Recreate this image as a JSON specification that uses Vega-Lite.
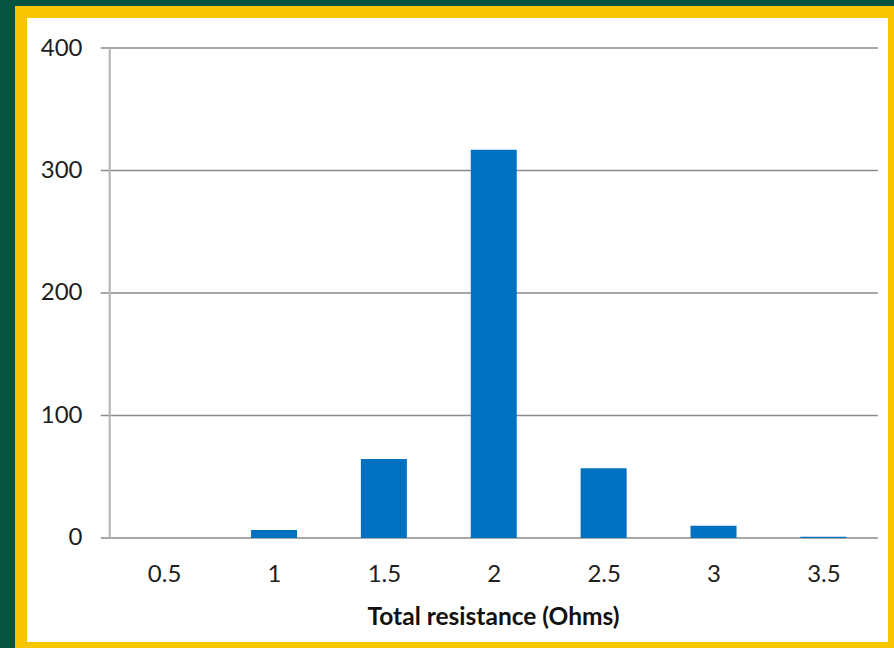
{
  "$schema": "https://vega.github.io/schema/vega-lite/v6.json",
  "width": 873,
  "height": 636,
  "autosize": {"type": "none"},
  "padding": {"left": 21, "top": 12, "right": 0, "bottom": 0},
  "background": "#06533f",
  "config": {
    "view": {"fill": "#ffffff", "stroke": "#f7c600", "strokeWidth": 12},
    "font": "Lato"
  },
  "datasets": {
    "counts": [
      {"resistance": 0.5, "count": 0},
      {"resistance": 1.0, "count": 6.5},
      {"resistance": 1.5, "count": 64.5},
      {"resistance": 2.0, "count": 317},
      {"resistance": 2.5, "count": 57},
      {"resistance": 3.0, "count": 10},
      {"resistance": 3.5, "count": 1}
    ],
    "gridlines": [
      {"level": 0}, {"level": 100}, {"level": 200}, {"level": 300}, {"level": 400}
    ]
  },
  "layer": [
    {
      "data": {"name": "gridlines"},
      "mark": {"type": "rule", "color": "#8a8a8a", "strokeWidth": 1.3},
      "encoding": {
        "y": {"field": "level", "type": "quantitative", "title": null},
        "x": {"datum": 0.2117, "type": "quantitative", "title": null},
        "x2": {"datum": 3.7477}
      }
    },
    {
      "data": {"values": [{}]},
      "mark": {"type": "rule", "color": "#b2b2b2", "strokeWidth": 2},
      "encoding": {
        "x": {"datum": 0.2523, "type": "quantitative", "title": null},
        "y": {"datum": 0, "type": "quantitative", "title": null},
        "y2": {"datum": 400}
      }
    },
    {
      "data": {"name": "counts"},
      "mark": {"type": "bar", "color": "#0070c0", "width": 46},
      "encoding": {
        "x": {
          "field": "resistance",
          "type": "quantitative",
          "title": "Total resistance (Ohms)",
          "scale": {"domain": [-0.1285, 3.7985], "nice": false, "zero": false},
          "axis": {
            "orient": "bottom",
            "offset": -110,
            "values": [0.5, 1, 1.5, 2, 2.5, 3, 3.5],
            "format": "~g",
            "grid": false,
            "domain": false,
            "ticks": false,
            "tickSize": 0,
            "labelPadding": 24,
            "labelFont": "Lato",
            "labelFontSize": 24,
            "labelColor": "#1e1e1e",
            "titleFont": "Lato",
            "titleFontSize": 24.5,
            "titleFontWeight": "bold",
            "titleColor": "#111111",
            "titleX": 472,
            "titleY": 86,
            "titleAlign": "center",
            "titleBaseline": "alphabetic"
          }
        },
        "y": {
          "field": "count",
          "type": "quantitative",
          "title": null,
          "stack": null,
          "scale": {"domain": [-89.8, 429.39], "nice": false, "zero": false},
          "axis": {
            "orient": "left",
            "offset": -85,
            "values": [0, 100, 200, 300, 400],
            "grid": false,
            "domain": false,
            "ticks": false,
            "tickSize": 0,
            "labelPadding": 24,
            "labelFont": "Lato",
            "labelFontSize": 24,
            "labelColor": "#1e1e1e"
          }
        },
        "y2": {"datum": 0}
      }
    }
  ]
}
